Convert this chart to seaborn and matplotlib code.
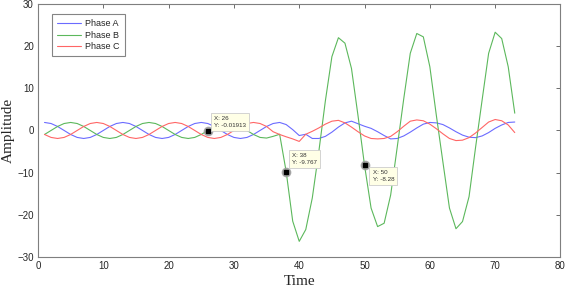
import numpy as np
import pandas as pd
import matplotlib
matplotlib.use('Agg')
import matplotlib.pyplot as plt
import seaborn as sns

# samples 1..73
time = np.arange(1, 74)

phase_a = [1.9, 1.65, 0.95, 0.0, -0.95, -1.65, -1.9, -1.65, -0.95, 0.0, 0.95, 1.65,
           1.9, 1.65, 0.95, 0.0, -0.95, -1.65, -1.9, -1.65, -0.95, 0.0, 0.95, 1.65,
           1.9, 1.65, 0.95, 0.0, -0.95, -1.65, -1.9, -1.65, -0.95, 0.0, 0.95, 1.65,
           1.9, 1.4, 0.2, -1.2, -0.9, -1.9, -1.9, -1.4, -0.4, 0.8, 1.8, 2.2,
           1.6, 1.0, 0.5, -0.3, -1.2, -2.0, -1.9, -1.3, -0.4, 0.6, 1.5, 1.9,
           1.8, 1.4, 0.6, -0.3, -1.1, -1.6, -1.7, -1.3, -0.5, 0.5, 1.3, 1.9, 2.0]

phase_b = [-0.95, 0.0, 0.95, 1.65, 1.9, 1.65, 0.95, 0.0, -0.95, -1.65, -1.9, -1.65,
           -0.95, 0.0, 0.95, 1.65, 1.9, 1.65, 0.95, 0.0, -0.95, -1.65, -1.9, -1.65,
           -0.95, -0.01913, 0.95, 1.65, 1.9, 1.65, 0.95, 0.0, -0.95, -1.65, -1.8, -1.4,
           -0.9, -9.767, -21.5, -26.3, -23.5, -16.0, -5.0, 7.0, 17.5, 22.0, 20.7, 14.7,
           3.5, -8.28, -18.4, -22.8, -22.0, -15.3, -4.0, 7.5, 18.3, 23.0, 22.2, 15.1,
           3.5, -7.5, -18.4, -23.3, -21.6, -15.7, -4.0, 7.2, 18.3, 23.3, 21.8, 15.1, 4.1]

phase_c = [-0.95, -1.65, -1.9, -1.65, -0.95, 0.0, 0.95, 1.65, 1.9, 1.65, 0.95, 0.0,
           -0.95, -1.65, -1.9, -1.65, -0.95, 0.0, 0.95, 1.65, 1.9, 1.65, 0.95, 0.0,
           -0.95, -1.65, -1.9, -1.65, -0.95, 0.0, 0.95, 1.65, 1.9, 1.65, 0.95, -0.3,
           -0.95, -1.5, -2.0, -2.6, -0.9, -0.2, 0.6, 1.5, 2.2, 2.4, 1.8, 0.8,
           -0.3, -1.3, -1.9, -2.0, -1.9, -1.4, -0.3, 1.0, 2.2, 2.5, 2.3, 1.5,
           0.4, -0.8, -1.9, -2.4, -2.3, -1.7, -0.6, 0.7, 2.0, 2.6, 2.3, 1.3, -0.5]

phases = ['Phase A', 'Phase B', 'Phase C']
colors = ['#6b6bff', '#5cb85c', '#ff6666']

# data tips shown on the figure (sample numbers)
tips = [26, 38, 50]

df = pd.DataFrame({'time': np.tile(time, 3),
                   'amp': phase_a + phase_b + phase_c,
                   'phase': np.repeat(phases, len(time))})

sns.set_style('white')
plt.rcParams['font.family'] = ['Liberation Sans', 'DejaVu Sans']

fig = plt.figure(figsize=(5.67, 2.92), dpi=100)
ax = fig.add_axes([0.067, 0.12, 0.9215, 0.8664])

sns.lineplot(data=df, x='time', y='amp', hue='phase', hue_order=phases,
             palette=colors, estimator=None, linewidth=0.8, ax=ax, legend=False)

ax.set_xlim(0, 80)
ax.set_ylim(-30, 30)
ax.set_xticks(range(0, 81, 10))
ax.set_yticks(range(-30, 31, 10))
ax.tick_params(direction='in', length=3, width=0.6, color='#555555',
               top=True, right=True, labelsize=7, pad=3)
for s in ax.spines.values():
    s.set_color('#7f7f7f')
    s.set_linewidth(0.8)

ax.set_xlabel('Time', family='Liberation Serif', fontsize=11, labelpad=3)
ax.set_ylabel('Amplitude', family='Liberation Serif', fontsize=11, labelpad=2)

leg = ax.legend(ax.lines[:3], phases, loc='upper left', bbox_to_anchor=(0.027, 0.96),
                borderaxespad=0, fontsize=6.5, frameon=True, fancybox=False,
                handlelength=2.6, labelspacing=0.3, borderpad=0.55, handletextpad=0.5)
leg.get_frame().set_edgecolor('#666666')
leg.get_frame().set_linewidth(0.8)

# datatips
b = dict(zip(time, phase_b))
offsets = {26: ((6, 3), 'bottom'), 38: ((6, 7), 'bottom'), 50: ((8, -5), 'top')}
for t in tips:
    y = b[t]
    ax.plot(t, y, 'o', ms=6, color='#9a9a9a', alpha=0.8, zorder=5)
    ax.plot(t, y, 's', ms=3.5, color='black', zorder=6)
    ax.annotate(f'X: {t}\nY: {y:.4g}', xy=(t, y), xytext=offsets[t][0],
                textcoords='offset pixels', va=offsets[t][1], ha='left',
                fontsize=4.5, color='#333333', linespacing=1.3,
                bbox=dict(boxstyle='square,pad=0.5', fc='#ffffe6', ec='#cccccc', lw=0.6),
                zorder=7)

fig.savefig('out.png', dpi=100)
